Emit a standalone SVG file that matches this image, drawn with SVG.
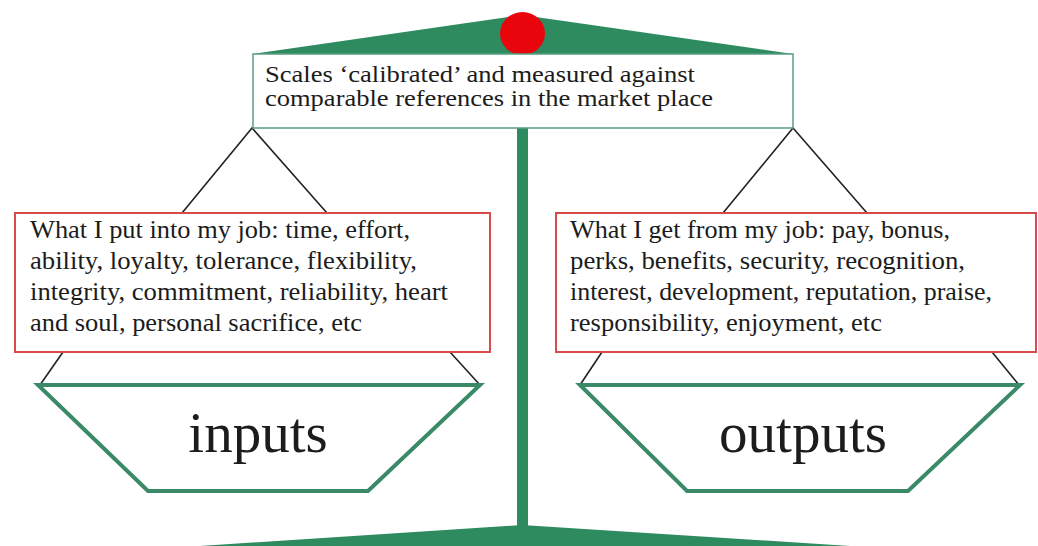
<svg xmlns="http://www.w3.org/2000/svg" width="1038" height="546" viewBox="0 0 1038 546">
  <style>
    .green { fill: #2e8b60; }
    .box { fill: #ffffff; stroke: #d94a4a; stroke-width: 2; }
    .topbox { fill: #ffffff; stroke: #5a9e82; stroke-width: 1.5; }
    .pan { fill: #ffffff; stroke: #3a8a68; stroke-width: 4; stroke-linejoin: miter; }
    .hang { stroke: #222222; stroke-width: 1.6; fill: none; }
    .t { font-family: "Liberation Serif", "Times New Roman", serif; fill: #1c1c1c; }
    .small { font-size: 26px; }
    .top { font-size: 24px; }
    .big { font-size: 57px; text-anchor: middle; }
  </style>
  <rect x="0" y="0" width="1038" height="546" fill="#ffffff"/>

  <g id="scale-frame">
    <polygon class="green" points="253,54 522,15 793,54"/>
    <rect class="green" x="517" y="128" width="11" height="400"/>
    <polygon class="green" points="200,546 522,525 850,546"/>
    <ellipse cx="522.5" cy="33.5" rx="22.5" ry="21.5" fill="#e8060c"/>
  </g>

  <g id="connectors">
    <polyline class="hang" points="182,213 252,128 327,213"/>
    <polyline class="hang" points="723,213 793,128 867,213"/>
    <line class="hang" x1="63" y1="352" x2="40" y2="385"/>
    <line class="hang" x1="450" y1="352" x2="480" y2="385"/>
    <line class="hang" x1="602" y1="352" x2="580" y2="385"/>
    <line class="hang" x1="992" y1="352" x2="1019" y2="385"/>
  </g>

  <g id="top-box">
    <rect class="topbox" x="253" y="54" width="540" height="74"/>
    <text class="t top" x="265" y="82" textLength="430" lengthAdjust="spacingAndGlyphs">Scales ‘calibrated’ and measured against</text>
    <text class="t top" x="265" y="106" textLength="448" lengthAdjust="spacingAndGlyphs">comparable references in the market place</text>
  </g>

  <g id="inputs-box">
    <rect class="box" x="15" y="213" width="475" height="139"/>
    <text class="t small" x="30" y="238" textLength="380" lengthAdjust="spacingAndGlyphs">What I put into my job: time, effort,</text>
    <text class="t small" x="30" y="269" textLength="387" lengthAdjust="spacingAndGlyphs">ability, loyalty, tolerance, flexibility,</text>
    <text class="t small" x="30" y="300" textLength="418" lengthAdjust="spacingAndGlyphs">integrity, commitment, reliability, heart</text>
    <text class="t small" x="30" y="331" textLength="332" lengthAdjust="spacingAndGlyphs">and soul, personal sacrifice, etc</text>
  </g>

  <g id="outputs-box">
    <rect class="box" x="556" y="213" width="480" height="139"/>
    <text class="t small" x="570" y="238" textLength="380" lengthAdjust="spacingAndGlyphs">What I get from my job: pay, bonus,</text>
    <text class="t small" x="570" y="269" textLength="395" lengthAdjust="spacingAndGlyphs">perks, benefits, security, recognition,</text>
    <text class="t small" x="570" y="300" textLength="422" lengthAdjust="spacingAndGlyphs">interest, development, reputation, praise,</text>
    <text class="t small" x="570" y="331" textLength="312" lengthAdjust="spacingAndGlyphs">responsibility, enjoyment, etc</text>
  </g>

  <g id="inputs-pan">
    <polygon class="pan" points="38,385 480,385 368,491 148,491"/>
    <text class="t big" x="258" y="452">inputs</text>
  </g>

  <g id="outputs-pan">
    <polygon class="pan" points="580,385 1020,385 908,491 687,491"/>
    <text class="t big" x="803" y="452">outputs</text>
  </g>
</svg>
